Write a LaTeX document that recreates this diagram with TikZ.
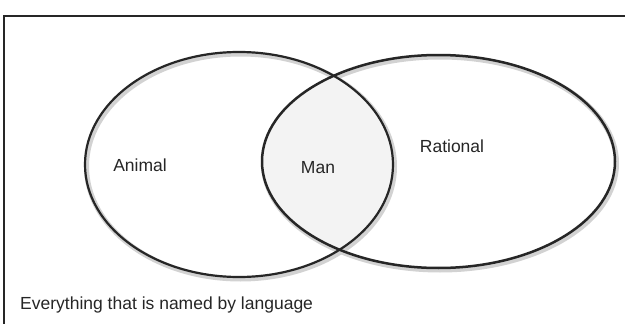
\documentclass[tikz,border=0pt]{standalone}
\usepackage{fontspec}
\setmainfont{Liberation Sans}
\usetikzlibrary{shapes.geometric}
\definecolor{ink}{HTML}{262626}
\definecolor{halo}{HTML}{D2D2D2}
\definecolor{lens}{HTML}{F3F3F3}
\begin{document}
\begin{tikzpicture}[x=1pt,y=-1pt,
  label/.style={font=\fontsize{17.5}{19}\selectfont, text=ink, inner sep=0pt},
  set/.style={ellipse, draw=ink, line width=2.2pt, inner sep=0pt, outer sep=0pt},
  shade/.style={ellipse, draw=halo, line width=5pt, inner sep=0pt, outer sep=0pt}]
  \useasboundingbox (0,0) rectangle (625,324);
  \fill[white] (0,0) rectangle (625,324);

  % soft halo below the outlines
  \node[shade, minimum width=308, minimum height=225] at (240.5,166.5) {};
  \node[shade, minimum width=353, minimum height=213] at (440,163.5) {};

  % shaded intersection
  \begin{scope}
    \clip (239,164.5) ellipse [x radius=154, y radius=112.5];
    \fill[lens] (438.5,161.5) ellipse [x radius=176.5, y radius=106.5];
  \end{scope}

  % the two sets
  \node[set, minimum width=308, minimum height=225] (animalset) at (239,164.5) {};
  \node[set, minimum width=353, minimum height=213, line width=2.5pt] (rationalset) at (438.5,161.5) {};

  % universe frame
  \coordinate (frameR) at (625,16);
  \coordinate (frameC) at (4,16);
  \coordinate (frameB) at (4,324);
  \draw[ink, line width=2.5pt] (frameR) -- (frameC) -- (frameB);

  % labels
  \node[label] (animal) at (140,165) {Animal};
  \node[label] (man) at (318,168) {Man};
  \node[label] (rational) at (452,146) {Rational};
  \node[label, anchor=west] (universe) at (20,305) {Everything that is named by language};
\end{tikzpicture}
\end{document}
